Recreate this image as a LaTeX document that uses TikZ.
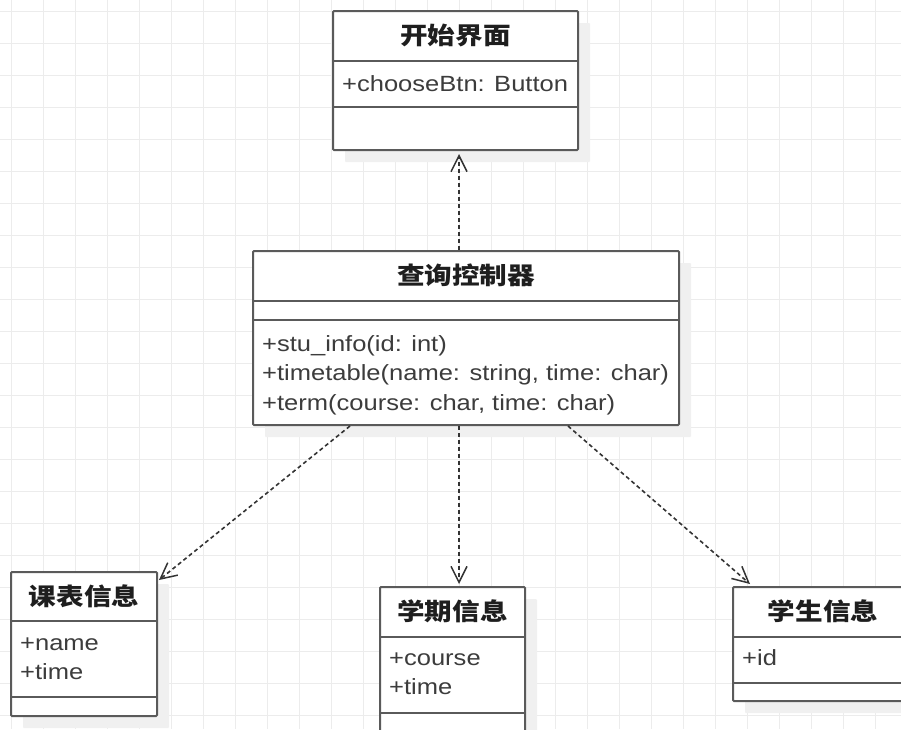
\documentclass[tikz,border=0pt]{standalone}
\usepackage{fontspec}
\setmainfont{Liberation Sans}[FakeStretch=1.16]
\newfontfamily\cjk{Noto Sans CJK SC}[FakeStretch=1.15]
\usetikzlibrary{arrows.meta,shadows,calc}
\definecolor{gridc}{HTML}{ECECEC}
\definecolor{borderc}{HTML}{5A5A5A}
\definecolor{textc}{HTML}{3C3C3C}
\definecolor{titlec}{HTML}{1E1E1E}
\definecolor{shadc}{HTML}{F0F0F0}
\definecolor{linec}{HTML}{333333}
\begin{document}
\begin{tikzpicture}[x=1pt,y=-1pt,
  classbox/.style={draw=borderc, line width=2pt, fill=white, rounded corners=1pt,
    inner sep=0pt, anchor=north west,
    drop shadow={shadow xshift=12pt, shadow yshift=-12pt, fill=shadc, opacity=1}},
  divider/.style={draw=borderc, line width=2pt},
  titletext/.style={inner sep=0pt, text=titlec, font=\cjk\bfseries\fontsize{24}{28}\selectfont},
  attr/.style={inner sep=0pt, anchor=base west, text=textc, font=\fontsize{22}{29}\selectfont},
  dep/.style={draw=linec, line width=1.6pt, dash pattern=on 4pt off 3pt,
    -{Straight Barb[length=16pt,width=16pt,line width=1.5pt]}},
  gridline/.style={draw=gridc, line width=1pt}]
\useasboundingbox (0,0) rectangle (901,729);
\clip (0,0) rectangle (901,729);
\fill[white] (0,0) rectangle (901,729);
% grid
\foreach \i in {0,...,28} \draw[gridline] (11+32*\i,0) -- (11+32*\i,729);
\foreach \j in {0,...,23} \draw[gridline] (0,11+32*\j) -- (901,11+32*\j);

% class 开始界面
\node[classbox, minimum width=245pt, minimum height=139pt] (b1) at (332,10) {};
\draw[divider] ($(b1.north west)+(0,51)$) -- ($(b1.north east)+(0,51)$);
\draw[divider] ($(b1.north west)+(0,97)$) -- ($(b1.north east)+(0,97)$);
\node[titletext] (t1) at ($(b1.north)+(0,25.5)$) {开始界面};
\node[attr] (b1a1) at ($(b1.north west)+(10,81)$) {+chooseBtn: Button};

% class 查询控制器
\node[classbox, minimum width=426pt, minimum height=174pt] (b2) at (252,250) {};
\draw[divider] ($(b2.north west)+(0,51)$) -- ($(b2.north east)+(0,51)$);
\draw[divider] ($(b2.north west)+(0,70)$) -- ($(b2.north east)+(0,70)$);
\node[titletext] (t2) at ($(b2.north)+(0,25.5)$) {查询控制器};
\node[attr] (b2m1) at ($(b2.north west)+(10,101)$) {+stu\_info(id: int)};
\node[attr] (b2m2) at ($(b2.north west)+(10,130)$) {+timetable(name: string, time: char)};
\node[attr] (b2m3) at ($(b2.north west)+(10,160)$) {+term(course: char, time: char)};

% class 课表信息
\node[classbox, minimum width=146pt, minimum height=144pt] (b3) at (10,571) {};
\draw[divider] ($(b3.north west)+(0,50)$) -- ($(b3.north east)+(0,50)$);
\draw[divider] ($(b3.north west)+(0,126)$) -- ($(b3.north east)+(0,126)$);
\node[titletext] (t3) at ($(b3.north)+(0,25)$) {课表信息};
\node[attr] (b3a1) at ($(b3.north west)+(10,79)$) {+name};
\node[attr] (b3a2) at ($(b3.north west)+(10,108.5)$) {+time};

% class 学期信息
\node[classbox, minimum width=145pt, minimum height=146pt] (b4) at (379,586) {};
\draw[divider] ($(b4.north west)+(0,51)$) -- ($(b4.north east)+(0,51)$);
\draw[divider] ($(b4.north west)+(0,127)$) -- ($(b4.north east)+(0,127)$);
\node[titletext] (t4) at ($(b4.north)+(0,25.5)$) {学期信息};
\node[attr] (b4a1) at ($(b4.north west)+(10,79)$) {+course};
\node[attr] (b4a2) at ($(b4.north west)+(10,108.5)$) {+time};

% class 学生信息
\node[classbox, minimum width=180pt, minimum height=114pt] (b5) at (732,586) {};
\draw[divider] ($(b5.north west)+(0,51)$) -- ($(b5.north east)+(0,51)$);
\draw[divider] ($(b5.north west)+(0,97)$) -- ($(b5.north east)+(0,97)$);
\node[titletext] (t5) at ($(b5.north)+(0,25.5)$) {学生信息};
\node[attr] (b5a1) at ($(b5.north west)+(10,79)$) {+id};

% dependencies
\draw[dep] ($(b2.north west)+(207,0)$) -- ($(b1.south west)+(127,3)$);
\draw[dep] ($(b2.south west)+(98,0)$) -- ($(b3.north east)+(1,9)$);
\draw[dep] ($(b2.south west)+(207,0)$) -- ($(b4.north west)+(80,-2)$);
\draw[dep] ($(b2.south west)+(316,0)$) -- ($(b5.north west)+(18,-2)$);
\end{tikzpicture}
\end{document}
